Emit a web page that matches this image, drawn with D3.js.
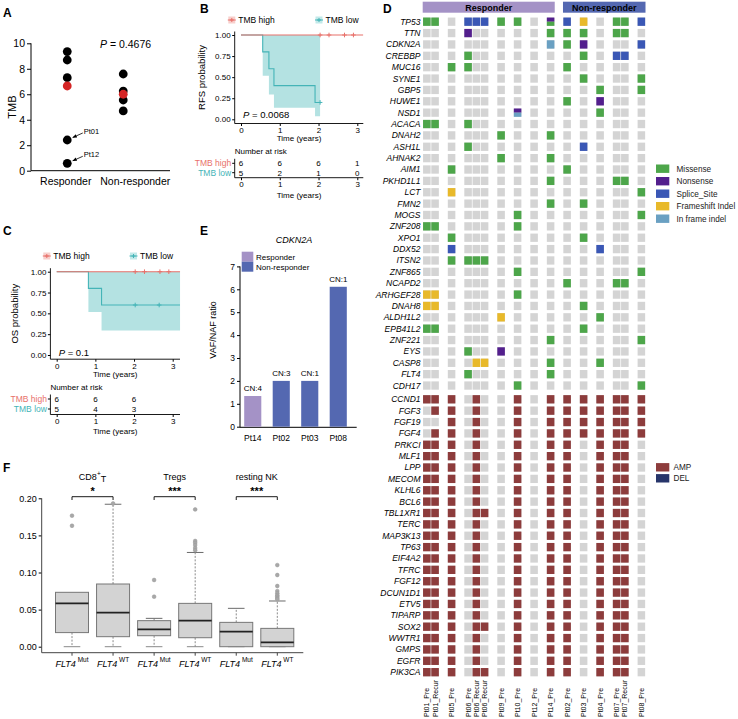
<!DOCTYPE html>
<html><head><meta charset="utf-8">
<script src="https://cdn.jsdelivr.net/npm/d3@7"></script>
<style>
body{margin:0;background:#fff}
svg{display:block;font-family:"Liberation Sans",Arial,Helvetica,sans-serif}
</style>
</head><body>
<svg id="chart" width="738" height="719"></svg>
<script>
// ================= DATA =================
// Panel A
const tmbGroups = ["Responder", "Non-responder"];
const tmbTicks = [0, 2, 4, 6, 8, 10];
const tmbResponder = [9.35, 8.69, 7.30, 6.65, 2.41, 0.58];
const tmbResponderHighlight = [0, 0, 0, 1, 0, 0];
const tmbResponderLabels = ["", "", "", "", "Pt01", "Pt12"];
const tmbNonResponder = [7.59, 6.25, 6.00, 5.55, 4.69];
const tmbNonResponderHighlight = [0, 0, 1, 0, 0];
const tmbPValue = "0.4676";

// Panels B / C (Kaplan-Meier)
const kmGroups = ["TMB high", "TMB low"];
const kmTimeTicks = [0, 1, 2, 3];
const kmSurvTicks = [0, 0.25, 0.5, 0.75, 1];

const rfsHighTimes = [0];
const rfsHighSurv = [1];
const rfsHighEnd = 3.15;
const rfsHighCensor = [2.04, 2.27, 2.67, 2.90];
const rfsLowTimes = [0, 0.56, 0.72, 0.85, 1.91];
const rfsLowSurv = [1, 0.8, 0.6, 0.4, 0.2];
const rfsLowLower = [1, 0.516, 0.293, 0.137, 0.035];
const rfsLowUpper = [1, 1, 1, 1, 1];
const rfsLowEnd = 2.04;
const rfsLowCensor = [2.04];
const rfsRiskHigh = [6, 6, 6, 1];
const rfsRiskLow = [5, 2, 1, 0];
const rfsPValue = "0.0068";

const osHighTimes = [0];
const osHighSurv = [1];
const osHighEnd = 3.19;
const osHighCensor = [2.03, 2.27, 2.67, 2.90];
const osLowTimes = [0, 0.82, 1.16];
const osLowSurv = [1, 0.8, 0.6];
const osLowLower = [1, 0.516, 0.293];
const osLowUpper = [1, 1, 1];
const osLowEnd = 3.19;
const osLowCensor = [2.03, 2.65];
const osRiskHigh = [6, 6, 6];
const osRiskLow = [5, 4, 3];
const osPValue = "0.1";

// Panel E
const cdknSamples = ["Pt14", "Pt02", "Pt03", "Pt08"];
const cdknGroup = ["Responder", "Non-responder", "Non-responder", "Non-responder"];
const cdknRatio = [1.34, 2.0, 2.0, 6.11];
const cdknCN = ["CN:4", "CN:3", "CN:1", "CN:1"];
const cdknTicks = [0, 1, 2, 3, 4, 5, 6, 7];
const responseGroups = ["Responder", "Non-responder"];

// Panel F
const cellTypes = ["CD8", "Tregs", "resting NK"];
const boxGenotype = ["Mut", "WT", "Mut", "WT", "Mut", "WT"];
const boxWhiskerLow = [0, 0, 0, 0, 0, 0];
const boxQ1 = [0.019, 0.0135, 0.0148, 0.0121, 0.0, 0.0];
const boxMedian = [0.0584, 0.0458, 0.0234, 0.0351, 0.0202, 0.0058];
const boxQ3 = [0.0733, 0.0845, 0.0351, 0.0584, 0.0328, 0.0247];
const boxWhiskerHigh = [0.0733, 0.192, 0.0382, 0.127, 0.0517, 0.0616];
const boxOutliers = [
  [0.1766, 0.163],
  [0.193],
  [0.0899, 0.0674],
  [0.185, 0.1425, 0.140, 0.137, 0.133, 0.130],
  [],
  [0.110, 0.0966, 0.0818, 0.075, 0.072, 0.0695, 0.0675, 0.0655, 0.064]
];
const boxTicks = [0, 0.05, 0.10, 0.15, 0.20];
const sigLabels = ["*", "***", "***"];

// Panel D (oncoprint)
const sampleNames = ["Pt01_Pre", "Pt01_Recur", "Pt05_Pre", "Pt06_Pre", "Pt06_Recur", "Pt06_Recur",
  "Pt09_Pre", "Pt10_Pre", "Pt12_Pre", "Pt14_Pre", "Pt02_Pre", "Pt03_Pre", "Pt04_Pre",
  "Pt07_Pre", "Pt07_Recur", "Pt08_Pre"];
const sampleGroups = ["Responder", "Responder", "Responder", "Responder", "Responder", "Responder",
  "Responder", "Responder", "Responder", "Responder", "Non-responder", "Non-responder",
  "Non-responder", "Non-responder", "Non-responder", "Non-responder"];
const mutGenes = ["TP53", "TTN", "CDKN2A", "CREBBP", "MUC16", "SYNE1", "GBP5", "HUWE1", "NSD1",
  "ACACA", "DNAH2", "ASH1L", "AHNAK2", "AIM1", "PKHD1L1", "LCT", "FMN2", "MOGS", "ZNF208",
  "XPO1", "DDX52", "ITSN2", "ZNF865", "NCAPD2", "ARHGEF28", "DNAH8", "ALDH1L2", "EPB41L2",
  "ZNF221", "EYS", "CASP8", "FLT4", "CDH17"];
// M=Missense N=Nonsense S=Splice_Site F=Frameshift Indel I=In frame indel
const mutRows = [
  "M M . S S S M M . NM S F . M M S",
  ". . . N . . . . . M M M . M M .",
  ". . . . . . . . . I M N . . . S",
  ". . . M . . . . . . . M . S S .",
  ". . M M . . . . . . M . . . . .",
  ". . . . . . . . . . . M . . . M",
  ". . . . . . . . . . . . M . . M",
  ". . . . . . . . . . M . N . . .",
  ". . . . . . . NI . . . . M . . .",
  "M M . M . . . . . . . . . . . .",
  ". . . . . . M . . M . . . . . .",
  ". . . M . . . . . . . S . . . .",
  ". . . . . . M . . M . . . . . .",
  ". . M . . . . . . . M . . . . .",
  ". . . . . . . . . M . . . M M .",
  ". . F . . . . . . . . . . . . M",
  ". . . . . . . . . M . M . . . .",
  ". . . . . . . M . . . . . . . M",
  "M M . . . . . M . . . . . . . .",
  ". . M . . . . . . . . M . . . .",
  ". . S . . . . . . . . . S . . .",
  ". . M M M M . . . . . . . . . .",
  ". . . . . . . M . . . . . . . M",
  ". . . . . . . . . . M . . M M .",
  "F F . . . . . M . . . . . . . .",
  "F F . . . . . . . . . M . . . .",
  ". . . . . . F . . . . . M . . .",
  "M M . . . . . . . . . M . . . .",
  ". . . . . . . . . M . . . . . M",
  ". . . M . . N . . . . . . . . .",
  ". . . . F F . . . M . . M . . .",
  ". . . M . . . . . M . . . . . .",
  ". . . . . . . M . . . . . . . M"
];
const cnvGenes = ["CCND1", "FGF3", "FGF19", "FGF4", "PRKCI", "MLF1", "LPP", "MECOM", "KLHL6",
  "BCL6", "TBL1XR1", "TERC", "MAP3K13", "TP63", "EIF4A2", "TFRC", "FGF12", "DCUN1D1", "ETV5",
  "TIPARP", "SOX2", "WWTR1", "GMPS", "EGFR", "PIK3CA"];
// A=AMP D=DEL
const cnvRows = [
  "A A A . A . . A . A A A A A A A",
  ". A A . A . . A . A A A A A A A",
  ". . A . A . . A . A A A A A A A",
  ". A A . A . . A . A A A A A A A",
  "A A A . A . . A . A A . A A A .",
  "A A A . A . . A . A A . A A A .",
  "A A A . A . . A . A A . A A A .",
  "A A A . A . . A . A A . A A A .",
  "A A A . A . . A . A A . A A A .",
  "A A A . A . . A . A A . A A A .",
  "A A A . A A . A . A A . A A A .",
  "A A A . A . . A . A A . A A A .",
  "A A A . A . . A . A A . A A A .",
  "A A A . A . . A . A A . A A A .",
  "A A A . A . . A . A A . A A A .",
  "A A A . A . . A . A A . A A A .",
  "A A A . A . . A . A A . A A A .",
  "A A A . A . . A . A A . A A A .",
  "A A A . A . . A . A A . A A A .",
  "A A A . A . . A . A A . A A A .",
  "A A A . A A . A . A A . A A A .",
  "A A A . A . . A . A A . A A A .",
  "A A A . A . . A . A A . A A A .",
  "A A A . A . . A . A A . A A A .",
  "A A A . A A . A . A A . A A A ."
];
const mutCodes = ["M", "N", "S", "F", "I"];
const mutTypes = ["Missense", "Nonsense", "Splice_Site", "Frameshift Indel", "In frame indel"];
const cnvCodes = ["A", "D"];
const cnvTypes = ["AMP", "DEL"];

// ================= STYLE =================
const FONT = '"Liberation Sans", Arial, Helvetica, sans-serif';
const C_HIGH = "#e8716a", C_LOW = "#44b4b7", C_BAND = "#b4e2e2";
const C_HIGH_KEY = "#f7cfcc", C_LOW_KEY = "#c2e9e9";
const mutColors = {M: "#4da64a", N: "#531f8d", S: "#3a57b5", F: "#e8b92a", I: "#6aa0c2"};
const cnvColors = {A: "#8d3c3c", D: "#27356a"};
const groupColors = {"Responder": "#a492c6", "Non-responder": "#5468b1"};
const GREY = "#d4d4d4";

const svg = d3.select("#chart");
svg.append("defs").append("marker").attr("id", "arr").attr("viewBox", "0 0 10 10")
  .attr("refX", 9).attr("refY", 5).attr("markerWidth", 4.5).attr("markerHeight", 4.5)
  .attr("markerUnits", "userSpaceOnUse").attr("orient", "auto")
  .append("path").attr("d", "M0,1 L10,5 L0,9 Z").attr("fill", "#000");

function text(parent, x, y, s, size, opts = {}) {
  const t = parent.append("text").attr("x", x).attr("y", y).attr("font-size", size)
    .attr("font-family", FONT).attr("fill", opts.fill || "#000").text(s);
  if (opts.anchor) t.attr("text-anchor", opts.anchor);
  if (opts.weight) t.attr("font-weight", opts.weight);
  if (opts.italic) t.attr("font-style", "italic");
  if (opts.mid) t.attr("dy", "0.35em");
  if (opts.rotate) t.attr("transform", `rotate(${opts.rotate},${x},${y})`);
  return t;
}
function styleAxis(sel, size) {
  sel.select(".domain").remove();
  sel.attr("font-family", FONT).attr("font-size", size);
  sel.selectAll(".tick line").attr("stroke", "#000");
  sel.selectAll(".tick text").attr("fill", "#000");
}

// panel letters
[["A", 3, 16.7], ["B", 200, 13.3], ["C", 3, 235], ["D", 383, 13.3], ["E", 200, 235], ["F", 3, 471.7]]
  .forEach(([l, x, y]) => text(svg, x, y, l, 12, {weight: "bold"}));

// ================= PANEL A =================
{
  const g = svg.append("g");
  const y = d3.scaleLinear().domain([0, 10]).range([170.7, 43.3]);
  const x = d3.scaleBand().domain(tmbGroups).range([31, 170]);
  const pointShift = {"Responder": 1.5, "Non-responder": -12};
  const ax = g.append("g").attr("transform", "translate(31,0)")
    .call(d3.axisLeft(y).tickValues(tmbTicks).tickSize(4).tickPadding(2));
  styleAxis(ax, 10.5);
  g.append("line").attr("x1", 31).attr("x2", 31).attr("y1", y(10)).attr("y2", y(0)).attr("stroke", "#000");
  g.append("line").attr("x1", 31).attr("x2", 170).attr("y1", y(0)).attr("y2", y(0)).attr("stroke", "#000");
  tmbGroups.forEach(gr => text(g, x(gr) + x.bandwidth() / 2, 181, gr, 10.5, {anchor: "middle", mid: true}));
  text(g, 12, 107, "TMB", 11, {anchor: "middle", mid: true, rotate: -90});
  const pts = [
    ...tmbResponder.map((v, i) => ({grp: "Responder", v, hi: tmbResponderHighlight[i], lab: tmbResponderLabels[i]})),
    ...tmbNonResponder.map((v, i) => ({grp: "Non-responder", v, hi: tmbNonResponderHighlight[i], lab: ""}))
  ].sort((a, b) => a.hi - b.hi);
  const cx = d => x(d.grp) + x.bandwidth() / 2 + pointShift[d.grp];
  g.selectAll("circle.pt").data(pts).join("circle")
    .attr("cx", cx).attr("cy", d => y(d.v)).attr("r", 4.4)
    .attr("fill", d => d.hi ? "#d42424" : "#000");
  pts.filter(d => d.lab).forEach(d => {
    const px = cx(d), py = y(d.v);
    g.append("line").attr("x1", px + 15.5).attr("y1", py - 7).attr("x2", px + 5.5).attr("y2", py - 2.5)
      .attr("stroke", "#000").attr("stroke-width", 0.8).attr("marker-end", "url(#arr)");
    text(g, px + 16.5, py - 8.5, d.lab, 7.5, {mid: true});
  });
  const p = text(g, 100, 47.5, "", 10.5);
  p.append("tspan").attr("font-style", "italic").text("P");
  p.append("tspan").text(" = " + tmbPValue);
}

// ================= KM helper =================
function drawKM(cfg) {
  const g = svg.append("g");
  const x = d3.scaleLinear().domain([0, 3]).range([cfg.x0, cfg.x3]);
  const y = d3.scaleLinear().domain([0, 1]).range([cfg.y0, cfg.y1]);
  const axX = cfg.x0 - 6.3, axY = cfg.y0 + 4.2, xRight = cfg.xRight;
  // legend
  const legend = [
    {lab: kmGroups[0], col: C_HIGH, key: C_HIGH_KEY, x: cfg.legX[0]},
    {lab: kmGroups[1], col: C_LOW, key: C_LOW_KEY, x: cfg.legX[1]}
  ];
  legend.forEach(l => {
    g.append("rect").attr("x", l.x).attr("y", cfg.legY - 3.5).attr("width", 7).attr("height", 7).attr("fill", l.key);
    g.append("line").attr("x1", l.x - 0.5).attr("x2", l.x + 7.5).attr("y1", cfg.legY).attr("y2", cfg.legY)
      .attr("stroke", l.col).attr("stroke-width", 1);
    g.append("path").attr("d", `M${l.x + 1.5},${cfg.legY}H${l.x + 5.5}M${l.x + 3.5},${cfg.legY - 2}V${cfg.legY + 2}`)
      .attr("stroke", l.col).attr("stroke-width", 1);
    text(g, l.x + 10, cfg.legY, l.lab, 8.5, {mid: true});
  });
  // band
  const low = cfg.lowTimes.map((t, i) => ({t, s: cfg.lowSurv[i], lo: cfg.lowLower[i], hi: cfg.lowUpper[i]}));
  low.push(Object.assign({}, low[low.length - 1], {t: cfg.lowEnd}));
  g.append("path").attr("fill", C_BAND)
    .attr("d", d3.area().curve(d3.curveStepAfter).x(d => x(d.t)).y0(d => y(d.lo)).y1(d => y(d.hi))(low));
  const high = cfg.highTimes.map((t, i) => ({t, s: cfg.highSurv[i]}));
  high.push(Object.assign({}, high[high.length - 1], {t: cfg.highEnd}));
  const line = d3.line().curve(d3.curveStepAfter).x(d => x(d.t)).y(d => y(d.s));
  g.append("path").attr("d", line(low)).attr("fill", "none").attr("stroke", C_LOW).attr("stroke-width", 1.1);
  g.append("path").attr("d", line(high)).attr("fill", "none").attr("stroke", C_HIGH).attr("stroke-width", 1.1);
  const survAt = (times, surv, t) => { let s = surv[0]; times.forEach((tt, i) => { if (tt <= t) s = surv[i]; }); return s; };
  const cross = (t, s, col) => {
    const cx = x(t), cy = y(s);
    g.append("path").attr("d", `M${cx - 2.3},${cy}H${cx + 2.3}M${cx},${cy - 2.3}V${cy + 2.3}`)
      .attr("stroke", col).attr("stroke-width", 1);
  };
  cfg.highCensor.forEach(t => cross(t, survAt(cfg.highTimes, cfg.highSurv, t), C_HIGH));
  cfg.lowCensor.forEach(t => cross(t, survAt(cfg.lowTimes, cfg.lowSurv, t), C_LOW));
  // axes
  const ay = g.append("g").attr("transform", `translate(${axX},0)`)
    .call(d3.axisLeft(y).tickValues(kmSurvTicks).tickFormat(d3.format(".2f")).tickSize(2.5).tickPadding(1.5));
  styleAxis(ay, 8);
  const axb = g.append("g").attr("transform", `translate(0,${axY})`)
    .call(d3.axisBottom(x).tickValues(kmTimeTicks).tickFormat(d3.format("d")).tickSize(2.5).tickPadding(1.5));
  styleAxis(axb, 8);
  g.append("line").attr("x1", axX).attr("x2", axX).attr("y1", cfg.y1 - 3.5).attr("y2", axY).attr("stroke", "#000").attr("stroke-width", 0.9);
  g.append("line").attr("x1", axX).attr("x2", xRight).attr("y1", axY).attr("y2", axY).attr("stroke", "#000").attr("stroke-width", 0.9);
  text(g, (axX + xRight) / 2, cfg.y0 + 19, "Time (years)", 8, {anchor: "middle", mid: true});
  text(g, cfg.yLabX, (cfg.y1 - 3.5 + axY) / 2, cfg.yLabel, 9.5, {anchor: "middle", mid: true, rotate: -90});
  const p = text(g, x(0) + 2, cfg.y0 + cfg.pDy, "", 9.5);
  p.append("tspan").attr("font-style", "italic").text("P");
  p.append("tspan").text(" = " + cfg.p);
  // risk table
  const rt = cfg.risk;
  text(g, axX, rt.title, "Number at risk", 8, {mid: true});
  const rows = [{lab: kmGroups[0], col: C_HIGH, vals: cfg.riskHigh, y: rt.r1}, {lab: kmGroups[1], col: C_LOW, vals: cfg.riskLow, y: rt.r2}];
  rows.forEach(r => {
    text(g, axX - 3.5, r.y, r.lab, 8.5, {anchor: "end", mid: true, fill: r.col});
    g.append("line").attr("x1", axX - 2.5).attr("x2", axX).attr("y1", r.y).attr("y2", r.y).attr("stroke", "#000");
    r.vals.forEach((v, i) => text(g, x(kmTimeTicks[i]), r.y, v, 8, {anchor: "middle", mid: true}));
  });
  g.append("line").attr("x1", axX).attr("x2", axX).attr("y1", rt.r1 - 4.5).attr("y2", rt.axis).attr("stroke", "#000").attr("stroke-width", 0.9);
  const axr = g.append("g").attr("transform", `translate(0,${rt.axis})`)
    .call(d3.axisBottom(x).tickValues(kmTimeTicks).tickFormat(d3.format("d")).tickSize(2.5).tickPadding(1.5));
  styleAxis(axr, 8);
  g.append("line").attr("x1", axX).attr("x2", xRight).attr("y1", rt.axis).attr("y2", rt.axis).attr("stroke", "#000").attr("stroke-width", 0.9);
  text(g, (axX + xRight) / 2, rt.axis + 17, "Time (years)", 8, {anchor: "middle", mid: true});
}

// ================= PANEL B =================
drawKM({
  x0: 241, x3: 357.3, y0: 119.3, y1: 35, xRight: 363.3, legY: 20, legX: [228.3, 315.5],
  yLabel: "RFS probability", yLabX: 201.7, p: rfsPValue, pDy: -1,
  highTimes: rfsHighTimes, highSurv: rfsHighSurv, highEnd: rfsHighEnd, highCensor: rfsHighCensor,
  lowTimes: rfsLowTimes, lowSurv: rfsLowSurv, lowLower: rfsLowLower, lowUpper: rfsLowUpper,
  lowEnd: rfsLowEnd, lowCensor: rfsLowCensor, riskHigh: rfsRiskHigh, riskLow: rfsRiskLow,
  risk: {title: 150.7, r1: 163.3, r2: 172.7, axis: 177.7}
});

// ================= PANEL C =================
drawKM({
  x0: 56.7, x3: 172.7, y0: 355, y1: 271.7, xRight: 180, legY: 256, legX: [43.3, 130],
  yLabel: "OS probability", yLabX: 15, p: osPValue, pDy: 1,
  highTimes: osHighTimes, highSurv: osHighSurv, highEnd: osHighEnd, highCensor: osHighCensor,
  lowTimes: osLowTimes, lowSurv: osLowSurv, lowLower: osLowLower, lowUpper: osLowUpper,
  lowEnd: osLowEnd, lowCensor: osLowCensor, riskHigh: osRiskHigh, riskLow: osRiskLow,
  risk: {title: 386.7, r1: 399, r2: 409, axis: 414.5}
});

// ================= PANEL E =================
{
  const g = svg.append("g");
  const x = d3.scaleBand().domain(cdknSamples).range([238.5, 352.5]).paddingInner(0.4).paddingOuter(0.2);
  const y = d3.scaleLinear().domain([0, 7]).range([426.7, 266.4]);
  const color = d3.scaleOrdinal().domain(responseGroups).range([groupColors["Responder"], groupColors["Non-responder"]]);
  text(g, 294, 240, "CDKN2A", 9, {anchor: "middle", mid: true, italic: true});
  responseGroups.forEach((r, i) => {
    g.append("rect").attr("x", 241.7).attr("y", 251.7 + i * 10).attr("width", 11.6).attr("height", 10).attr("fill", color(r));
    text(g, 256, 256.7 + i * 10, r, 8, {mid: true});
  });
  const ay = g.append("g").attr("transform", "translate(240,0)")
    .call(d3.axisLeft(y).tickValues(cdknTicks).tickFormat(d3.format("d")).tickSize(3).tickPadding(2));
  styleAxis(ay, 8.5);
  g.append("line").attr("x1", 240).attr("x2", 240).attr("y1", y(7)).attr("y2", 427.3).attr("stroke", "#000");
  g.append("line").attr("x1", 240).attr("x2", 356.7).attr("y1", 427.3).attr("y2", 427.3).attr("stroke", "#000");
  g.selectAll("rect.bar").data(cdknSamples).join("rect").attr("class", "bar")
    .attr("x", d => x(d)).attr("width", x.bandwidth())
    .attr("y", (d, i) => y(cdknRatio[i])).attr("height", (d, i) => y(0) - y(cdknRatio[i]))
    .attr("fill", (d, i) => color(cdknGroup[i]));
  cdknSamples.forEach((s, i) => {
    text(g, x(s) + x.bandwidth() / 2, y(cdknRatio[i]) - 7.5, cdknCN[i], 8, {anchor: "middle", mid: true});
    text(g, x(s) + x.bandwidth() / 2, 438.3, s, 8.5, {anchor: "middle", mid: true});
  });
  text(g, 213, 330, "VAF/NAF ratio", 9, {anchor: "middle", mid: true, rotate: -90});
}

// ================= PANEL F =================
{
  const g = svg.append("g");
  const y = d3.scaleLinear().domain([0, 0.2]).range([646.7, 498.3]);
  const x = d3.scalePoint().domain(d3.range(boxGenotype.length)).range([72, 277.3]);
  const bw = 33;
  const ay = g.append("g").attr("transform", "translate(41.7,0)")
    .call(d3.axisLeft(y).tickValues(boxTicks).tickFormat(d3.format(".2f")).tickSize(3).tickPadding(2));
  styleAxis(ay, 9);
  g.append("line").attr("x1", 41.7).attr("x2", 41.7).attr("y1", 498.3).attr("y2", 652.7).attr("stroke", "#444");
  g.append("line").attr("x1", 41.7).attr("x2", 303.3).attr("y1", 652.7).attr("y2", 652.7).attr("stroke", "#444");
  boxGenotype.forEach((gt, i) => {
    const cx = x(i);
    g.append("line").attr("x1", cx).attr("x2", cx).attr("y1", 652.7).attr("y2", 655.7).attr("stroke", "#444");
    // whiskers
    g.append("line").attr("x1", cx).attr("x2", cx).attr("y1", y(boxQ1[i])).attr("y2", y(boxWhiskerLow[i]))
      .attr("stroke", "#8a8a8a").attr("stroke-dasharray", "2,1.5");
    g.append("line").attr("x1", cx - 8.3).attr("x2", cx + 8.3).attr("y1", y(boxWhiskerLow[i])).attr("y2", y(boxWhiskerLow[i]))
      .attr("stroke", "#8a8a8a");
    if (boxWhiskerHigh[i] > boxQ3[i]) {
      g.append("line").attr("x1", cx).attr("x2", cx).attr("y1", y(boxQ3[i])).attr("y2", y(boxWhiskerHigh[i]))
        .attr("stroke", "#8a8a8a").attr("stroke-dasharray", "2,1.5");
      g.append("line").attr("x1", cx - 8.3).attr("x2", cx + 8.3).attr("y1", y(boxWhiskerHigh[i])).attr("y2", y(boxWhiskerHigh[i]))
        .attr("stroke", "#6a6a6a");
    }
    g.append("rect").attr("x", cx - bw / 2).attr("width", bw).attr("y", y(boxQ3[i]))
      .attr("height", Math.max(0.5, y(boxQ1[i]) - y(boxQ3[i])))
      .attr("fill", "#d3d3d3").attr("stroke", "#777").attr("stroke-width", 1);
    g.append("line").attr("x1", cx - bw / 2).attr("x2", cx + bw / 2).attr("y1", y(boxMedian[i])).attr("y2", y(boxMedian[i]))
      .attr("stroke", "#222").attr("stroke-width", 1.8);
    g.selectAll(null).data(boxOutliers[i]).join("circle").attr("cx", cx).attr("cy", d => y(d)).attr("r", 1.9)
      .attr("fill", "#a8a8a8").attr("stroke", "#999").attr("stroke-width", 0.5);
    const t = text(g, cx, 664, "", 9, {anchor: "middle", mid: true});
    t.append("tspan").attr("font-style", "italic").text("FLT4");
    t.append("tspan").attr("font-size", 6.5).attr("dy", "-0.75em").text(" " + gt);
  });
  cellTypes.forEach((ct, k) => {
    const x1 = x(2 * k), x2 = x(2 * k + 1), cx = (x1 + x2) / 2;
    const t = text(g, cx, 477, "", 9, {anchor: "middle", mid: true});
    t.append("tspan").text(ct);
    if (k === 0) {
      t.append("tspan").attr("font-size", 6.5).attr("dy", "-0.6em").text("+");
      t.append("tspan").attr("dy", "0.6em").text("T");
    }
    g.append("path").attr("d", `M${x1},500 V496.7 H${x2} V500`).attr("fill", "none").attr("stroke", "#000").attr("stroke-width", 0.9);
    text(g, cx, 495, sigLabels[k], 11, {anchor: "middle", weight: "bold"});
  });
}

// ================= PANEL D =================
{
  const g = svg.append("g");
  let slot = -1, prev = null;
  const slots = sampleNames.map(n => {
    const p = n.split("_")[0];
    slot += (prev !== null && p !== prev) ? 2 : 1;
    prev = p;
    return slot;
  });
  const nSlots = slot + 1;
  const x = d3.scaleBand().domain(d3.range(nSlots)).range([422.7, 645.5]);
  const bw = x.bandwidth();
  const pitch = 11.37;
  const yMut = d3.scaleBand().domain(mutGenes).range([21.7 - pitch / 2, 21.7 - pitch / 2 + pitch * mutGenes.length])
    .paddingInner(0.27).paddingOuter(0.135);
  const yCnv = d3.scaleBand().domain(cnvGenes).range([399.3 - pitch / 2, 399.3 - pitch / 2 + pitch * cnvGenes.length])
    .paddingInner(0.27).paddingOuter(0.135);

  // group headers
  responseGroups.forEach(gr => {
    const s = slots.filter((d, i) => sampleGroups[i] === gr);
    const x0 = x(d3.min(s)), x1 = x(d3.max(s)) + bw;
    g.append("rect").attr("x", x0).attr("y", 1.7).attr("width", x1 - x0).attr("height", 11)
      .attr("fill", groupColors[gr]);
    text(g, (x0 + x1) / 2, 7.4, gr, 9, {anchor: "middle", mid: true, weight: "bold"});
  });

  function drawRows(genes, rows, yScale, colorMap) {
    genes.forEach((gene, gi) => {
      const codes = rows[gi].split(" ");
      const yy = yScale(gene), h = yScale.bandwidth();
      text(g, 420.5, yy + h / 2, gene, 8.5, {anchor: "end", mid: true, italic: true});
      codes.forEach((c, si) => {
        const xx = x(slots[si]) + 0.35, w = bw - 0.7;
        g.append("rect").attr("x", xx).attr("y", yy).attr("width", w).attr("height", h).attr("fill", GREY);
        if (c !== ".") {
          const parts = c.split("");
          parts.forEach((pc, k) => {
            g.append("rect").attr("x", xx).attr("y", yy + k * h / parts.length).attr("width", w)
              .attr("height", h / parts.length).attr("fill", colorMap[pc]);
          });
        }
      });
    });
  }
  drawRows(mutGenes, mutRows, yMut, mutColors);
  drawRows(cnvGenes, cnvRows, yCnv, cnvColors);

  // sample labels
  sampleNames.forEach((s, i) => {
    const cx = x(slots[i]) + bw / 2 + 2.5;
    g.append("text").attr("transform", `translate(${cx},717) rotate(-90)`)
      .attr("font-size", 7).attr("font-family", FONT).attr("fill", "#000").text(s);
  });

  // legends
  mutTypes.forEach((t, i) => {
    const yy = 168.7 + i * 12.5;
    g.append("rect").attr("x", 656).attr("y", yy - 4.2).attr("width", 13.3).attr("height", 8.4)
      .attr("fill", mutColors[mutCodes[i]]);
    text(g, 676.5, yy, t, 8.2, {mid: true, fill: "#222"});
  });
  cnvTypes.forEach((t, i) => {
    const yy = 467.3 + i * 11;
    g.append("rect").attr("x", 656).attr("y", yy - 4.2).attr("width", 13.3).attr("height", 8.4)
      .attr("fill", cnvColors[cnvCodes[i]]);
    text(g, 673.5, yy, t, 8.2, {mid: true, fill: "#222"});
  });
}
</script>
</body></html>
